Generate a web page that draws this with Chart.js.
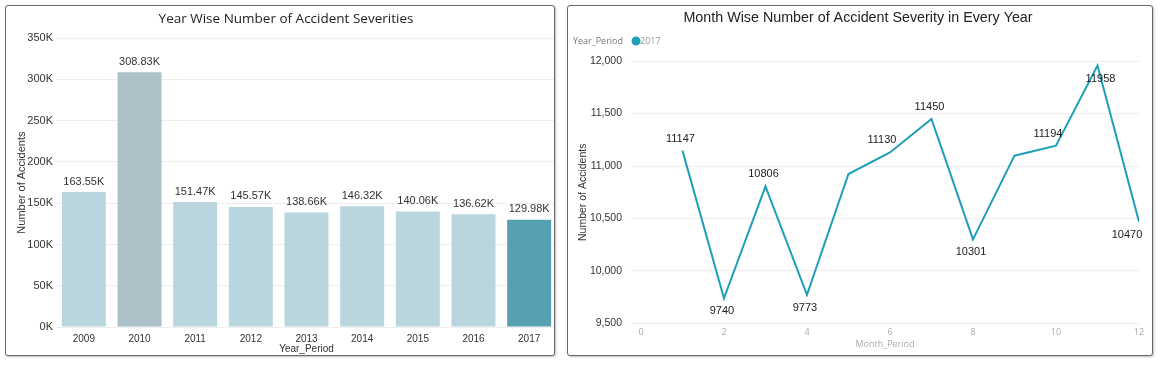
<!DOCTYPE html>
<html>
<head>
<meta charset="utf-8">
<script src="https://cdn.jsdelivr.net/npm/chart.js@4.4.0/dist/chart.umd.min.js"></script>
<style>
  body { margin: 0; background: #fff; width: 1159px; height: 365px; position: relative; overflow: hidden; }
  .panel { position: absolute; top: 5px; height: 349px; border: 1px solid #666; border-radius: 3px; box-shadow: 1px 1px 2px rgba(0,0,0,0.25); background: #fff; overflow: hidden; }
  #p1 { left: 5px; width: 548px; }
  #p2 { left: 567px; width: 584px; }
  .inner { position: absolute; left: 0; top: 0; height: 349px; }
  #w1 { width: 551px; }
  #w2 { width: 584px; }
  canvas { display: block; }
</style>
</head>
<body>
<div class="panel" id="p1"><div class="inner" id="w1"><canvas id="chart_year"></canvas></div></div>
<div class="panel" id="p2"><div class="inner" id="w2"><canvas id="chart_month"></canvas></div></div>
<script>
// dados
const years = ['2009', '2010', '2011', '2012', '2013', '2014', '2015', '2016', '2017'];
const yearTotals = [163550, 308830, 151470, 145570, 138660, 146320, 140060, 136620, 129980];

const months = [1, 2, 3, 4, 5, 6, 7, 8, 9, 10, 11, 12];
const monthCounts2017 = [11147, 9740, 10806, 9773, 10924, 11130, 11450, 10301, 11099, 11194, 11958, 10470];
const monthTicks = [0, 2, 4, 6, 8, 10, 12];

const FONT = '"Liberation Sans", Arial, sans-serif';
const SEGOE = '"Open Sans", "Noto Sans", sans-serif';

// rótulos em cima das barras
const barLabels = {
  id: 'barLabels',
  afterDatasetsDraw(chart) {
    const ctx = chart.ctx;
    const meta = chart.getDatasetMeta(0);
    const data = chart.data.datasets[0].data;
    ctx.save();
    ctx.font = '11px ' + FONT;
    ctx.fillStyle = '#333';
    ctx.textAlign = 'center';
    ctx.textBaseline = 'bottom';
    meta.data.forEach((bar, i) => {
      ctx.fillText((data[i] / 1000).toFixed(2) + 'K', bar.x, bar.y - 5);
    });
    ctx.restore();
  }
};

// rótulos da linha (alguns em cima, outros embaixo)
const lineLabels = {
  id: 'lineLabels',
  afterDatasetsDraw(chart, args, opts) {
    const ctx = chart.ctx;
    const meta = chart.getDatasetMeta(0);
    const data = chart.data.datasets[0].data;
    ctx.save();
    ctx.font = '11px ' + FONT;
    ctx.fillStyle = '#222';
    ctx.textAlign = 'center';
    ctx.textBaseline = 'middle';
    meta.data.forEach((pt, i) => {
      if (opts.hidden.includes(i)) return;
      const dy = opts.below.includes(i) ? 13 : -12;
      const dx = opts.shift[i] !== undefined ? opts.shift[i] : -2;
      ctx.fillText(String(data[i].y), pt.x + dx, pt.y + dy);
    });
    ctx.restore();
  }
};

// legenda "Year_Period ● 2017"
const inlineLegend = {
  id: 'inlineLegend',
  afterDraw(chart, args, opts) {
    const ctx = chart.ctx;
    const ds = chart.data.datasets[0];
    ctx.save();
    ctx.font = '9px ' + SEGOE;
    ctx.textBaseline = 'middle';
    ctx.fillStyle = '#777';
    ctx.fillText(opts.title, opts.x, opts.y);
    const w = ctx.measureText(opts.title).width;
    ctx.beginPath();
    ctx.arc(opts.x + w + 13, opts.y, 4.5, 0, Math.PI * 2);
    ctx.fillStyle = ds.borderColor;
    ctx.fill();
    ctx.fillStyle = '#999';
    ctx.fillText(ds.label, opts.x + w + 17, opts.y);
    ctx.restore();
  }
};

new Chart(document.getElementById('chart_year'), {
  type: 'bar',
  data: {
    labels: years,
    datasets: [{
      label: 'Number of Accidents',
      data: yearTotals,
      backgroundColor: ['#b9d6de', '#adc1c8', '#b9d6de', '#b9d6de', '#b9d6de', '#b9d6de', '#b9d6de', '#b9d6de', '#56a0b2'],
      categoryPercentage: 1,
      barPercentage: 0.79,
    }]
  },
  options: {
    responsive: true,
    maintainAspectRatio: false,
    animation: false,
    layout: { padding: { left: 9, right: 0, bottom: 0 } },
    plugins: {
      legend: { display: false },
      tooltip: { enabled: false },
      title: {
        display: true,
        text: 'Year Wise Number of Accident Severities',
        color: '#222',
        font: { family: SEGOE, size: 13.5, weight: 'normal' },
        padding: { top: 5, bottom: 11 }
      }
    },
    scales: {
      x: {
        grid: { display: false, drawTicks: false },
        border: { display: false },
        ticks: { color: '#333', font: { family: FONT, size: 10 }, padding: 6 },
        title: { display: true, text: 'Year_Period', color: '#333', font: { family: FONT, size: 10 }, padding: { top: -8, bottom: 0 } }
      },
      y: {
        min: 0,
        max: 350000,
        border: { display: false },
        grid: { color: '#eeeeee', drawTicks: false },
        afterFit: axis => { axis.width = 41; },
        ticks: {
          stepSize: 50000,
          color: '#333',
          font: { family: FONT, size: 11 },
          padding: 3,
          callback: v => (v / 1000) + 'K'
        },
        title: { display: true, text: 'Number of Accidents', color: '#333', font: { family: FONT, size: 11 }, padding: 0 }
      }
    }
  },
  plugins: [barLabels]
});

new Chart(document.getElementById('chart_month'), {
  type: 'line',
  data: {
    datasets: [{
      label: '2017',
      data: months.map((m, i) => ({ x: m, y: monthCounts2017[i] })),
      borderColor: '#1f9fb8',
      borderWidth: 2,
      pointRadius: 0,
      tension: 0,
    }]
  },
  options: {
    responsive: true,
    maintainAspectRatio: false,
    animation: false,
    layout: { padding: { left: 9, right: 13, bottom: 5 } },
    plugins: {
      legend: { display: false },
      tooltip: { enabled: false },
      title: {
        display: true,
        text: 'Month Wise Number of Accident Severity in Every Year',
        color: '#222',
        font: { family: FONT, size: 14.3, weight: 'normal' },
        padding: { top: 3, bottom: 35 }
      },
      inlineLegend: { title: 'Year_Period', x: 5, y: 35 },
      lineLabels: { hidden: [4, 8], below: [1, 3, 7, 10, 11], shift: { 5: -8, 9: -8, 10: 3, 11: -12 } }
    },
    scales: {
      x: {
        type: 'linear',
        min: -0.24,
        max: 12,
        grid: { display: false, drawTicks: false },
        border: { display: false },
        afterBuildTicks: axis => {
          axis.ticks = monthTicks.map(v => ({ value: v }));
        },
        ticks: { color: '#aaa', font: { family: SEGOE, size: 9 }, padding: 4 },
        title: { display: true, text: 'Month_Period', color: '#aaa', font: { family: SEGOE, size: 9 }, padding: { top: -3, bottom: 0 } }
      },
      y: {
        min: 9500,
        max: 12000,
        border: { display: false },
        grid: { color: '#eeeeee', drawTicks: false },
        afterFit: axis => { axis.width = 54; },
        ticks: {
          stepSize: 500,
          color: '#333',
          font: { family: FONT, size: 10.5 },
          padding: 9,
          callback: v => v.toLocaleString('en-US')
        },
        title: { display: true, text: 'Number of Accidents', color: '#333', font: { family: FONT, size: 10.5 }, padding: 0 }
      }
    }
  },
  plugins: [lineLabels, inlineLegend]
});
</script>
</body>
</html>
